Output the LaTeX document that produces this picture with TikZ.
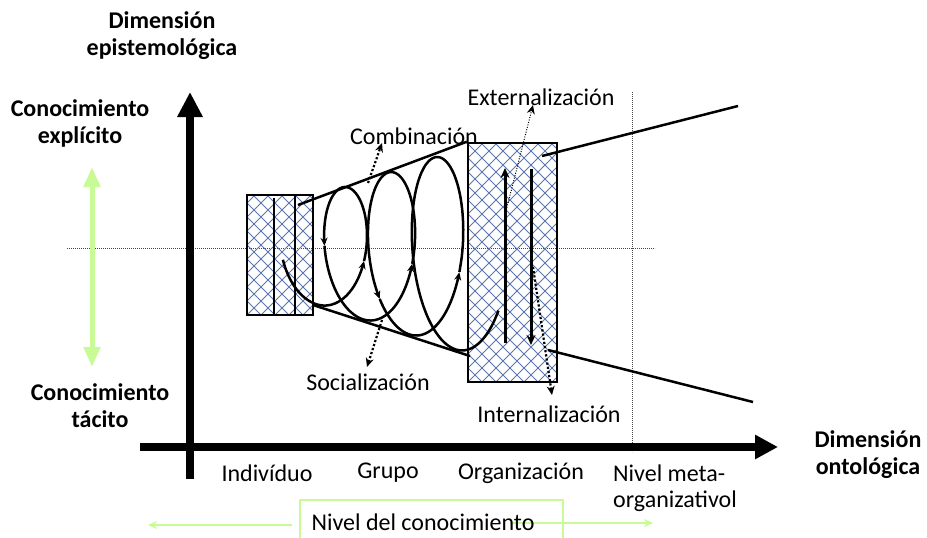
\documentclass[tikz,border=0pt]{standalone}
\usepackage{fontspec}
\setmainfont{Carlito}
\usetikzlibrary{arrows.meta}
\definecolor{latcol}{RGB}{90,120,175}
\definecolor{lgreen}{RGB}{200,250,150}
\definecolor{dotcol}{RGB}{70,70,70}
\tikzset{
  lattice/.style={path picture={
    \foreach \k in {-30,...,30}{
      \draw[latcol,line width=0.9pt] ([xshift=\k*14pt]path picture bounding box.south west) -- ++(300pt,300pt);
      \draw[latcol,line width=0.9pt] ([xshift=\k*14pt]path picture bounding box.south west) -- ++(-300pt,300pt);
    }}},
  boxnode/.style={draw,line width=2.5pt,lattice,inner sep=0pt},
  lbl/.style={font=\fontsize{24}{26}\selectfont, inner sep=0pt, align=center},
  blbl/.style={font=\fontsize{24}{27}\selectfont\bfseries, inner sep=0pt, align=center},
  heavy/.style={line width=2.5pt},
  guide/.style={dotcol, line width=0.8pt, dash pattern=on 0.8pt off 1.2pt},
  dotarrow/.style={line width=2.2pt, dash pattern=on 2.2pt off 2pt, -{Stealth[length=9pt,width=8pt]}},
  finearrow/.style={line width=1pt, dash pattern=on 1pt off 1.5pt, -{Stealth[length=9pt,width=8pt]}},
  spiral/.style={line width=2.5pt},
  spiraltip/.style={spiral, -{Stealth[length=8pt,width=7pt]}},
  axis/.style={line width=8pt},
  garrow/.style={lgreen, line width=2pt, -{Stealth[length=9pt,width=8pt]}}
}
\newcommand\spiralseg[3]{\draw[#3] plot[domain=#1:#2,samples=35,smooth,variable=\t]
  ({323+46*\t+(31+2.2*\t)*sin(360*\t)},{250+(55.5+15*\t)*cos(360*\t)});}
\begin{document}
\begin{tikzpicture}[x=1pt,y=-1pt]
\useasboundingbox (0,0) rectangle (927,538);
% guide lines
\coordinate (gl) at (67,248);
\coordinate (gr) at (655,248);
\coordinate (vt) at (632,92);
\coordinate (vb) at (632,452);
\draw[guide] (gl) -- (gr);
\draw[guide] (vt) -- (vb);
% boxes
\node[boxnode, minimum width=66pt, minimum height=120pt] (sbox) at (280,255) {};
\node[boxnode, minimum width=89pt, minimum height=239pt] (bbox) at (512.5,262.5) {};
\coordinate (s1t) at (274,198); \coordinate (s1b) at (274,315);
\coordinate (s2t) at (295,195); \coordinate (s2b) at (295,315);
\draw[heavy] (s1t) -- (s1b);
\draw[heavy] (s2t) -- (s2b);
% cone
\coordinate (ct1) at (298,205);
\coordinate (cb1) at (313,305);
\coordinate (cb2) at (470,356);
\coordinate (ct2) at (542,156);
\coordinate (ct3) at (738,106);
\coordinate (cb3) at (548,350);
\coordinate (cb4) at (753,402);
\draw[heavy] (ct1) -- (bbox.north west);
\draw[heavy] (cb1) -- (cb2);
\draw[heavy] (ct2) -- (ct3);
\draw[heavy] (cb3) -- (cb4);
% spiral
\spiralseg{-0.22}{0.22}{spiraltip}
\spiralseg{0.22}{0.74}{spiraltip}
\spiralseg{0.74}{1.22}{spiraltip}
\spiralseg{1.22}{1.85}{spiraltip}
\spiralseg{1.85}{2.21}{spiraltip}
\spiralseg{2.21}{3.15}{spiral}
% arrows in big box
\coordinate (ua) at (505,343); \coordinate (ub) at (505,168);
\coordinate (da) at (531,169); \coordinate (db) at (531,345);
\draw[line width=3pt, -{Stealth[length=10pt,width=9pt]}] (ua) -- (ub);
\draw[line width=3pt, -{Stealth[length=10pt,width=9pt]}] (da) -- (db);
% axes
\coordinate (ya) at (190,479); \coordinate (yb) at (190,92);
\coordinate (xa) at (140,447); \coordinate (xb) at (778,447);
\draw[axis, -{Triangle[width=24pt,length=25pt]}] (ya) -- (yb);
\draw[axis, -{Triangle[width=23pt,length=23pt]}] (xa) -- (xb);
% labels
\node[blbl] (epi) at (162,36) {Dimensión\\epistemológica};
\node[blbl] (expl) at (80,123) {Conocimiento\\explícito};
\node[blbl] (tac) at (100,406) {Conocimiento\\tácito};
\node[blbl] (onto) at (868,455) {Dimensión\\ontológica};
\node[lbl] (ind) at (267,473) {Indivíduo};
\node[lbl] (gru) at (388,473) {Grupo};
\node[lbl] (org) at (521,473) {Organización};
\node[lbl, align=left, anchor=north west] (meta) at (613,465) {Nivel meta-\\organizativol};
\node[lbl] (comb) at (414,136) {Combinación};
\node[lbl] (ext) at (541,97) {Externalización};
\node[lbl] (soc) at (368,382) {Socialización};
\node[lbl] (int) at (549,414) {Internalización};
% dotted arrows
\coordinate (c1) at (368,183); \coordinate (c2) at (382,143);
\coordinate (so1) at (382,320); \coordinate (so2) at (367,367);
\coordinate (e1) at (505,215); \coordinate (e2) at (533,105);
\coordinate (i1) at (533,267); \coordinate (i2) at (552,395);
\draw[dotarrow] (c1) -- (c2);
\draw[dotarrow] (so1) -- (so2);
\draw[finearrow] (e1) -- (e2);
\draw[dotarrow] (i1) -- (i2);
% green
\coordinate (gv1) at (92,167); \coordinate (gv2) at (92,367);
\draw[lgreen, line width=5pt, {Triangle[width=16pt,length=20pt]}-{Triangle[width=16pt,length=20pt]}] (gv1) -- (gv2);
\coordinate (gbl) at (300,545); \coordinate (gtr) at (563,500); \coordinate (gbr) at (563,545);
\draw[lgreen, line width=2pt] (gbl) |- (gtr) -- (gbr);
\coordinate (gl1) at (292,525); \coordinate (gl2) at (148,525);
\coordinate (gr1) at (510,523); \coordinate (gr2) at (653,523);
\draw[garrow] (gl1) -- (gl2);
\draw[garrow] (gr1) -- (gr2);
\node[lbl] (niv) at (423,522) {Nivel del conocimiento};
\end{tikzpicture}
\end{document}
